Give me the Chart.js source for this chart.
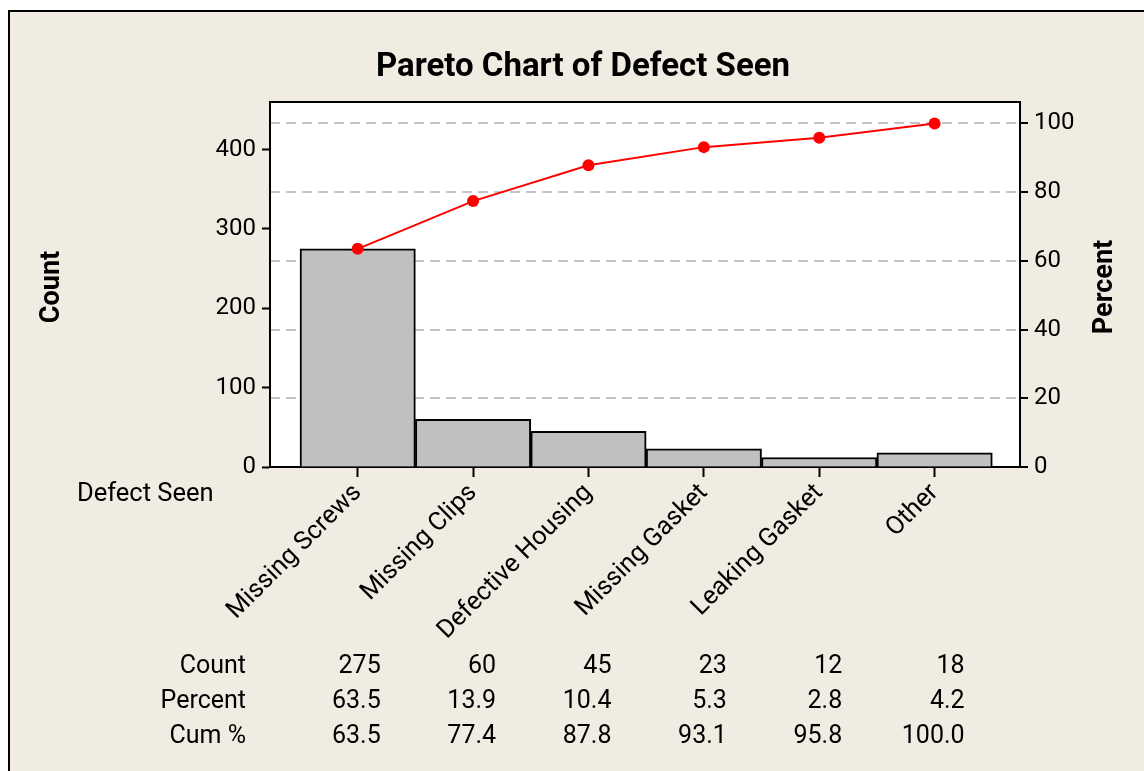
<!DOCTYPE html>
<html>
<head>
<meta charset="utf-8">
<title>Pareto Chart of Defect Seen</title>
<script src="https://cdn.jsdelivr.net/npm/chart.js@4.4.0/dist/chart.umd.min.js"></script>
<style>
  html, body { margin: 0; padding: 0; background: #fff; }
  #wrap { width: 1144px; height: 771px; }
</style>
</head>
<body>
<div id="wrap"><canvas id="pareto" width="1144" height="771"></canvas></div>
<script>
// data
var categories = ["Missing Screws", "Missing Clips", "Defective Housing", "Missing Gasket", "Leaking Gasket", "Other"];
var counts = [275, 60, 45, 23, 12, 18];
var percents = [63.5, 13.9, 10.4, 5.3, 2.8, 4.2];
var cumPercents = [63.5, 77.4, 87.8, 93.1, 95.8, 100.0];
var countTicks = [0, 100, 200, 300, 400];
var percentTicks = [0, 20, 40, 60, 80, 100];
var totalCount = 433;
var countMax = 460;

var BEIGE = '#f0ece2';
Chart.defaults.font.family = 'Roboto';
Chart.defaults.color = '#000';

// background, frame, plot box and all the extra minitab texts
var paretoDecor = {
    id: 'paretoDecor',
    beforeDraw: function(chart) {
        var ctx = chart.ctx, a = chart.chartArea;
        ctx.save();
        ctx.fillStyle = '#fff';
        ctx.fillRect(0, 0, chart.width, chart.height);
        ctx.fillStyle = BEIGE;
        ctx.fillRect(9, 11, chart.width, chart.height);
        ctx.strokeStyle = '#000';
        ctx.lineWidth = 2;
        ctx.strokeRect(9, 11, chart.width + 20, chart.height + 20);
        ctx.fillStyle = '#fff';
        ctx.fillRect(a.left, a.top, a.right - a.left, a.bottom - a.top);
        ctx.restore();
    },
    afterDraw: function(chart) {
        var ctx = chart.ctx, a = chart.chartArea;
        var xs = chart.scales.x;
        ctx.save();
        // top edge of the plot box
        ctx.strokeStyle = '#000';
        ctx.lineWidth = 2;
        ctx.beginPath();
        ctx.moveTo(a.left - 1, a.top);
        ctx.lineTo(a.right + 1, a.top);
        ctx.stroke();

        ctx.fillStyle = '#000';
        ctx.textBaseline = 'middle';
        ctx.textAlign = 'center';
        ctx.font = 'bold 33px Roboto';
        ctx.fillText('Pareto Chart of Defect Seen', 583, 68);

        ctx.font = 'bold 27px Roboto';
        ctx.save();
        ctx.translate(52, 287);
        ctx.rotate(-Math.PI / 2);
        ctx.fillText('Count', 0, 0);
        ctx.restore();
        ctx.save();
        ctx.translate(1105, 287);
        ctx.rotate(-Math.PI / 2);
        ctx.fillText('Percent', 0, 0);
        ctx.restore();

        ctx.font = '25.5px Roboto';
        ctx.textAlign = 'left';
        ctx.fillText('Defect Seen', 77, 495);

        // table under the axis
        var rows = [
            ['Count', counts.map(function(v) { return String(v); })],
            ['Percent', percents.map(function(v) { return v.toFixed(1); })],
            ['Cum %', cumPercents.map(function(v) { return v.toFixed(1); })]
        ];
        var rowY = [667, 702, 737];
        ctx.font = '25px Roboto';
        ctx.textAlign = 'right';
        rows.forEach(function(r, j) {
            ctx.fillText(r[0], 246, rowY[j]);
            r[1].forEach(function(txt, i) {
                var off = i === categories.length - 1 ? 30 : 23;
                ctx.fillText(txt, xs.getPixelForValue(i) + off, rowY[j]);
            });
        });
        ctx.restore();
    }
};

var ctx = document.getElementById('pareto').getContext('2d');
var chart = new Chart(ctx, {
    type: 'bar',
    data: {
        datasets: [{
            type: 'line',
            label: 'Cum %',
            yAxisID: 'y1',
            data: cumPercents.map(function(v, i) { return { x: i, y: v }; }),
            borderColor: '#ff0000',
            borderWidth: 2,
            pointRadius: 6,
            pointBackgroundColor: '#ff0000',
            pointBorderWidth: 0,
            tension: 0
        }, {
            type: 'bar',
            label: 'Count',
            yAxisID: 'y',
            data: counts.map(function(v, i) { return { x: i, y: v }; }),
            backgroundColor: '#c0c0c0',
            borderColor: '#000',
            borderWidth: 2,
            barPercentage: 1,
            categoryPercentage: 1
        }]
    },
    options: {
        responsive: false,
        animation: false,
        devicePixelRatio: 1,
        layout: { padding: { top: 102, left: 0, right: 0, bottom: 0 } },
        plugins: {
            legend: { display: false },
            title: { display: false },
            tooltip: { enabled: false }
        },
        scales: {
            x: {
                type: 'linear',
                min: -0.76,
                max: 5.74,
                offset: false,
                afterBuildTicks: function(s) {
                    s.ticks = categories.map(function(c, i) { return { value: i }; });
                },
                afterFit: function(s) { s.height = 304; },
                ticks: {
                    callback: function(v) { return categories[v]; },
                    autoSkip: false,
                    minRotation: 45,
                    maxRotation: 45,
                    padding: 1,
                    font: { size: 25.5 }
                },
                grid: {
                    offset: false,
                    drawOnChartArea: false,
                    tickLength: 10,
                    tickWidth: 2,
                    tickColor: '#000'
                },
                border: { color: '#000', width: 2 }
            },
            y: {
                position: 'left',
                min: 0,
                max: countMax,
                afterBuildTicks: function(s) {
                    s.ticks = countTicks.map(function(v) { return { value: v }; });
                },
                afterFit: function(s) { s.width = 270; },
                ticks: { padding: 6, font: { size: 24 } },
                grid: {
                    drawOnChartArea: false,
                    tickLength: 8,
                    tickWidth: 2,
                    tickColor: '#000'
                },
                border: { color: '#000', width: 2 }
            },
            y1: {
                position: 'right',
                min: 0,
                max: countMax / totalCount * 100,
                afterBuildTicks: function(s) {
                    s.ticks = percentTicks.map(function(v) { return { value: v }; });
                },
                afterFit: function(s) { s.width = 124; },
                ticks: { padding: 6, font: { size: 24 } },
                grid: {
                    color: function(c) { return c.tick && c.tick.value === 0 ? 'rgba(0,0,0,0)' : '#c4c4c4'; },
                    lineWidth: 2,
                    tickLength: 8,
                    tickWidth: 2,
                    tickColor: '#000'
                },
                border: { color: '#000', width: 2, dash: [10, 6] }
            }
        }
    },
    plugins: [paretoDecor]
});
</script>
</body>
</html>
